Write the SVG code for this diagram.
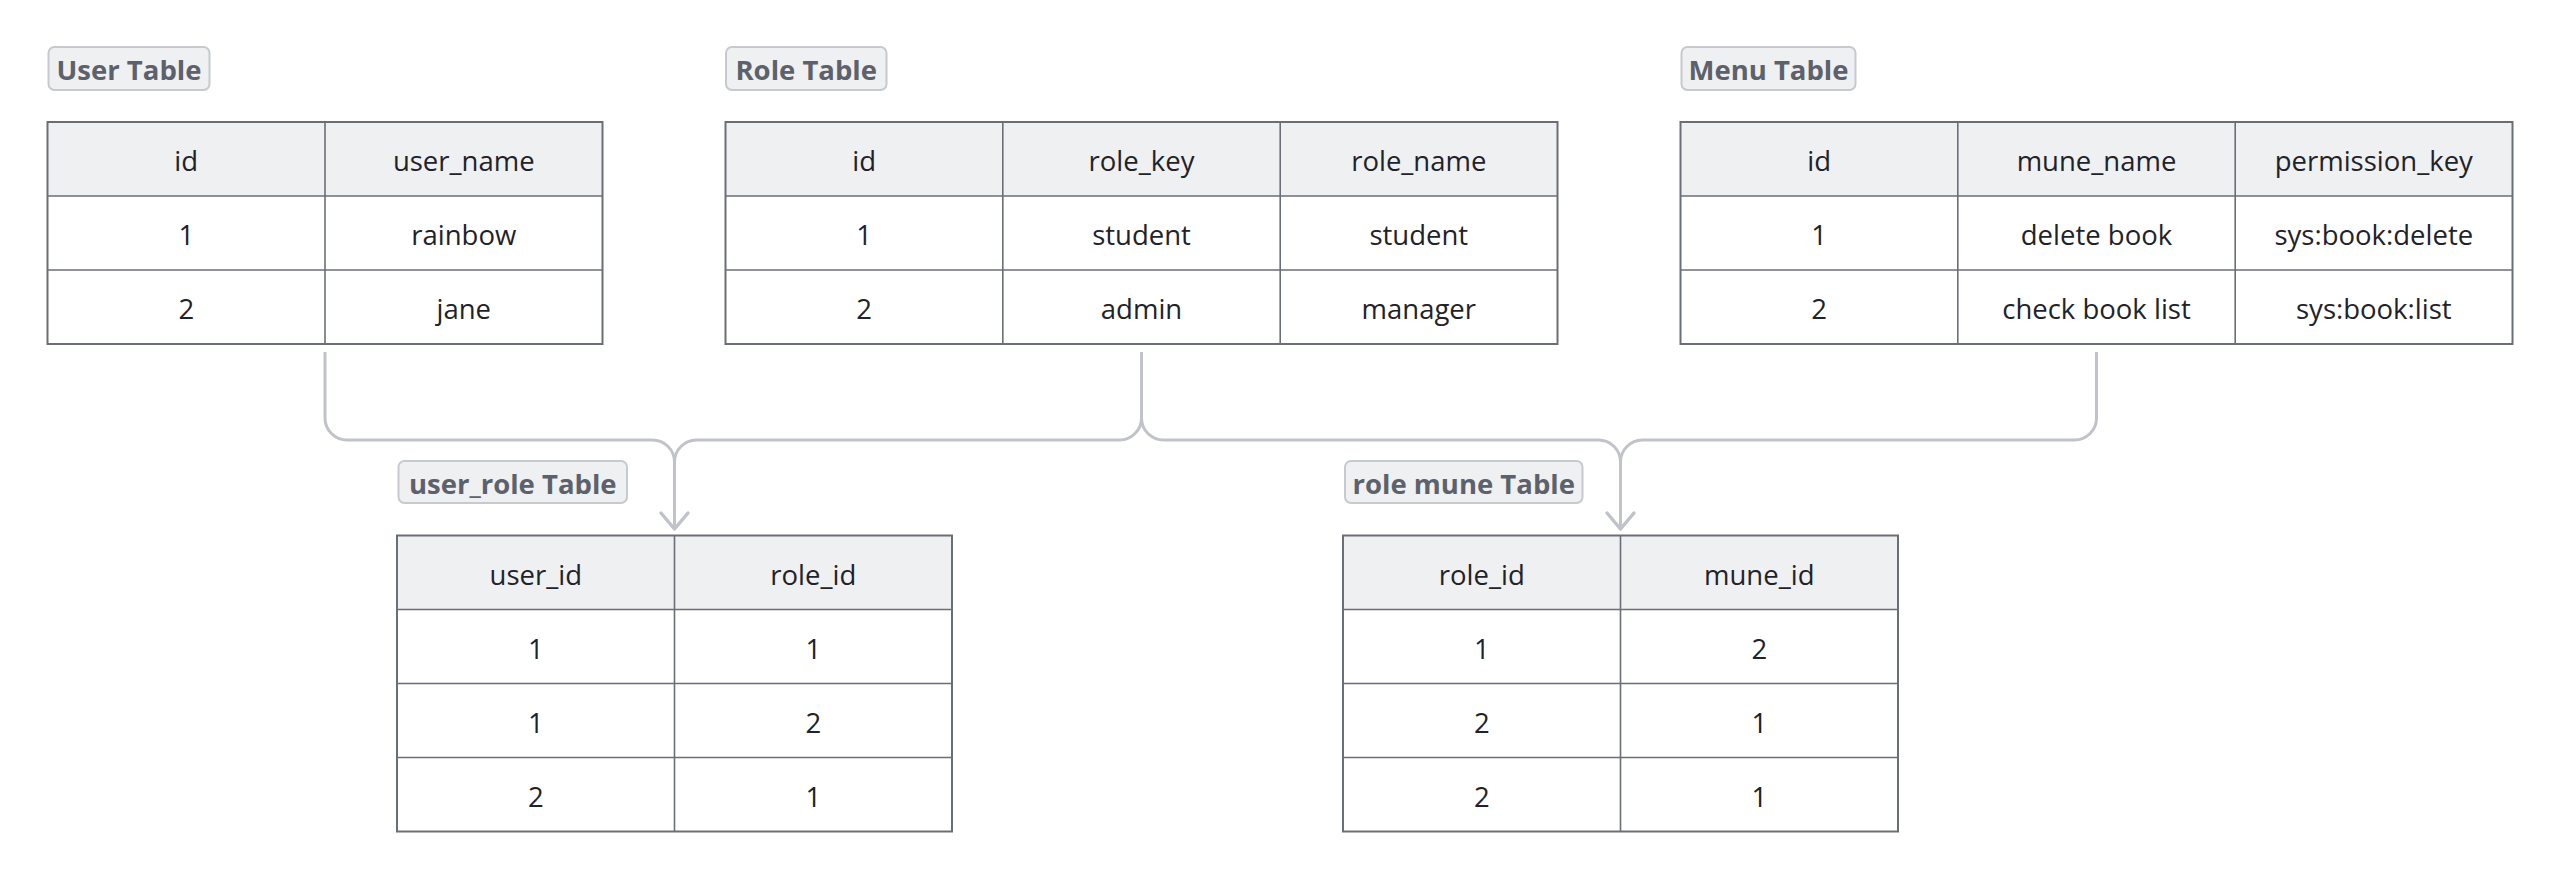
<svg xmlns="http://www.w3.org/2000/svg" width="2562" height="880" viewBox="0 0 2562 880">
<style>
.bg{fill:#ffffff}
.lbl rect{fill:#eff0f2;stroke:#c6c9ce;stroke-width:2}
.lbl text{font-family:"Open Sans","Noto Sans",sans-serif;font-weight:bold;font-size:27.5px;fill:#5c616b;text-anchor:middle}
.hd{fill:#eff0f2}
.ln{stroke:#6a6e77;stroke-width:1.6;fill:none}
.bd{stroke:#6a6e77;stroke-width:2;fill:none}
.cell{font-family:"Open Sans","Noto Sans",sans-serif;font-size:27.5px;fill:#1f2329;text-anchor:middle}
.conn{fill:none;stroke:#c0c3c9;stroke-width:3;stroke-linejoin:round}
</style>
<defs>
<marker id="arr" markerUnits="userSpaceOnUse" markerWidth="40" markerHeight="40" refX="0" refY="0" orient="auto" overflow="visible">
<path d="M -16 -13.5 L 0 0 L -16 13.5" fill="none" stroke="#c0c3c9" stroke-width="3" stroke-linejoin="round" stroke-linecap="round"/>
</marker>
</defs>
<rect class="bg" x="0" y="0" width="2562" height="880"/>

<g id="connectors">
<path class="conn" d="M 325 352 V 418 A 22 22 0 0 0 347 440 H 652.5 A 22 22 0 0 1 674.5 462 V 529" marker-end="url(#arr)"/>
<path class="conn" d="M 1141.5 352 V 418 A 22 22 0 0 1 1119.5 440 H 696.5 A 22 22 0 0 0 674.5 462 V 529" marker-end="url(#arr)"/>
<path class="conn" d="M 1141.5 352 V 418 A 22 22 0 0 0 1163.5 440 H 1598.5 A 22 22 0 0 1 1620.5 462 V 529" marker-end="url(#arr)"/>
<path class="conn" d="M 2096.5 352 V 418 A 22 22 0 0 1 2074.5 440 H 1642.5 A 22 22 0 0 0 1620.5 462 V 529" marker-end="url(#arr)"/>
</g>

<g id="user-table">
<g class="lbl"><rect x="48.5" y="47" width="161" height="43" rx="6"/><text x="129" y="80">User Table</text></g>
<rect class="hd" x="47.5" y="122" width="555" height="74"/>
<line class="ln" x1="47.5" y1="196" x2="602.5" y2="196"/>
<line class="ln" x1="47.5" y1="270" x2="602.5" y2="270"/>
<line class="ln" x1="325" y1="122" x2="325" y2="344"/>
<rect class="bd" x="47.5" y="122" width="555" height="222"/>
<text class="cell" x="186.25" y="171">id</text><text class="cell" x="463.75" y="171">user_name</text>
<text class="cell" x="186.25" y="245">1</text><text class="cell" x="463.75" y="245">rainbow</text>
<text class="cell" x="186.25" y="319">2</text><text class="cell" x="463.75" y="319">jane</text>
</g>

<g id="role-table">
<g class="lbl"><rect x="726" y="47" width="160.5" height="43" rx="6"/><text x="806.25" y="80">Role Table</text></g>
<rect class="hd" x="725.5" y="122" width="832" height="74"/>
<line class="ln" x1="725.5" y1="196" x2="1557.5" y2="196"/>
<line class="ln" x1="725.5" y1="270" x2="1557.5" y2="270"/>
<line class="ln" x1="1002.8" y1="122" x2="1002.8" y2="344"/>
<line class="ln" x1="1280.2" y1="122" x2="1280.2" y2="344"/>
<rect class="bd" x="725.5" y="122" width="832" height="222"/>
<text class="cell" x="864.2" y="171">id</text><text class="cell" x="1141.5" y="171">role_key</text><text class="cell" x="1418.8" y="171">role_name</text>
<text class="cell" x="864.2" y="245">1</text><text class="cell" x="1141.5" y="245">student</text><text class="cell" x="1418.8" y="245">student</text>
<text class="cell" x="864.2" y="319">2</text><text class="cell" x="1141.5" y="319">admin</text><text class="cell" x="1418.8" y="319">manager</text>
</g>

<g id="menu-table">
<g class="lbl"><rect x="1681.5" y="47" width="174" height="43" rx="6"/><text x="1768.5" y="80">Menu Table</text></g>
<rect class="hd" x="1680.5" y="122" width="832" height="74"/>
<line class="ln" x1="1680.5" y1="196" x2="2512.5" y2="196"/>
<line class="ln" x1="1680.5" y1="270" x2="2512.5" y2="270"/>
<line class="ln" x1="1957.8" y1="122" x2="1957.8" y2="344"/>
<line class="ln" x1="2235.2" y1="122" x2="2235.2" y2="344"/>
<rect class="bd" x="1680.5" y="122" width="832" height="222"/>
<text class="cell" x="1819.2" y="171">id</text><text class="cell" x="2096.5" y="171">mune_name</text><text class="cell" x="2373.8" y="171">permission_key</text>
<text class="cell" x="1819.2" y="245">1</text><text class="cell" x="2096.5" y="245">delete book</text><text class="cell" x="2373.8" y="245">sys:book:delete</text>
<text class="cell" x="1819.2" y="319">2</text><text class="cell" x="2096.5" y="319">check book list</text><text class="cell" x="2373.8" y="319">sys:book:list</text>
</g>

<g id="user-role-table">
<g class="lbl"><rect x="398.5" y="461" width="228.5" height="42" rx="6"/><text x="512.75" y="493.5">user_role Table</text></g>
<rect class="hd" x="397" y="535.5" width="555" height="74"/>
<line class="ln" x1="397" y1="609.5" x2="952" y2="609.5"/>
<line class="ln" x1="397" y1="683.5" x2="952" y2="683.5"/>
<line class="ln" x1="397" y1="757.5" x2="952" y2="757.5"/>
<line class="ln" x1="674.5" y1="535.5" x2="674.5" y2="831.5"/>
<rect class="bd" x="397" y="535.5" width="555" height="296"/>
<text class="cell" x="535.75" y="584.5">user_id</text><text class="cell" x="813.25" y="584.5">role_id</text>
<text class="cell" x="535.75" y="658.5">1</text><text class="cell" x="813.25" y="658.5">1</text>
<text class="cell" x="535.75" y="732.5">1</text><text class="cell" x="813.25" y="732.5">2</text>
<text class="cell" x="535.75" y="806.5">2</text><text class="cell" x="813.25" y="806.5">1</text>
</g>

<g id="role-mune-table">
<g class="lbl"><rect x="1345" y="461" width="237.5" height="42" rx="6"/><text x="1463.75" y="493.5">role mune Table</text></g>
<rect class="hd" x="1343" y="535.5" width="555" height="74"/>
<line class="ln" x1="1343" y1="609.5" x2="1898" y2="609.5"/>
<line class="ln" x1="1343" y1="683.5" x2="1898" y2="683.5"/>
<line class="ln" x1="1343" y1="757.5" x2="1898" y2="757.5"/>
<line class="ln" x1="1620.5" y1="535.5" x2="1620.5" y2="831.5"/>
<rect class="bd" x="1343" y="535.5" width="555" height="296"/>
<text class="cell" x="1481.75" y="584.5">role_id</text><text class="cell" x="1759.25" y="584.5">mune_id</text>
<text class="cell" x="1481.75" y="658.5">1</text><text class="cell" x="1759.25" y="658.5">2</text>
<text class="cell" x="1481.75" y="732.5">2</text><text class="cell" x="1759.25" y="732.5">1</text>
<text class="cell" x="1481.75" y="806.5">2</text><text class="cell" x="1759.25" y="806.5">1</text>
</g>
</svg>
